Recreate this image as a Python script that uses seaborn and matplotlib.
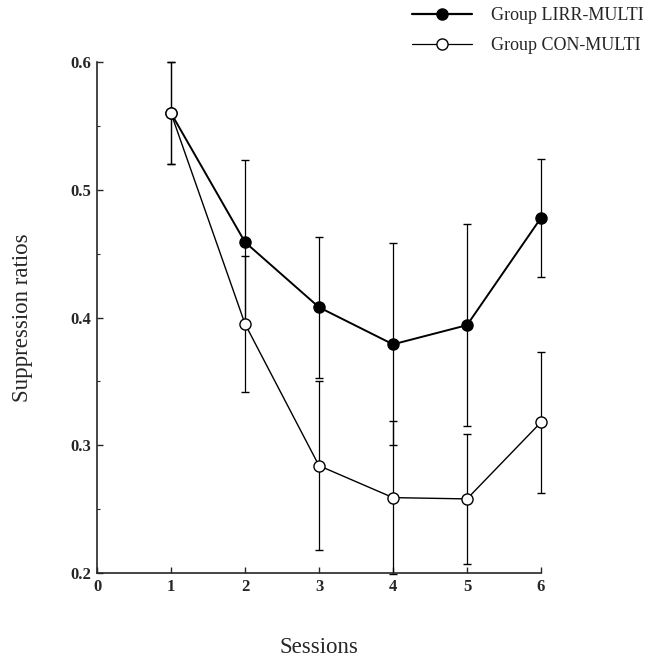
import numpy as np
import pandas as pd
import seaborn as sns
import matplotlib.pyplot as plt
from matplotlib.lines import Line2D
from matplotlib.ticker import MultipleLocator

# --- DATA ---
sessions = [1, 2, 3, 4, 5, 6]
lirr_mean = [0.560, 0.459, 0.408, 0.379, 0.394, 0.478]
lirr_err = [0.040, 0.064, 0.055, 0.079, 0.079, 0.046]
con_mean = [0.560, 0.395, 0.284, 0.259, 0.258, 0.318]
con_err = [0.040, 0.053, 0.066, 0.060, 0.051, 0.055]
group_names = ["Group LIRR-MULTI", "Group CON-MULTI"]


def main():
    sns.set_style("ticks")
    plt.rcParams['font.family'] = ['Liberation Serif', 'DejaVu Serif']
    plt.rcParams['xtick.direction'] = 'in'
    plt.rcParams['ytick.direction'] = 'in'

    df = pd.DataFrame({
        "Sessions": sessions * 2,
        "ratio": lirr_mean + con_mean,
        "err": lirr_err + con_err,
        "group": [group_names[0]] * 6 + [group_names[1]] * 6,
    })

    fig = plt.figure(figsize=(6.52, 6.58), dpi=100)
    ax = fig.add_axes([97 / 652, 85 / 658, 444 / 652, 511 / 658])

    styles = {
        group_names[0]: dict(mfc="black", lw=1.4),
        group_names[1]: dict(mfc="white", lw=1.0),
    }

    # error bars first so the markers sit on top
    for name, sub in df.groupby("group", sort=False):
        ax.errorbar(sub["Sessions"], sub["ratio"], yerr=sub["err"], fmt="none",
                    ecolor="black", elinewidth=0.9, capsize=3, capthick=1.0,
                    clip_on=False, zorder=2)

    for name, sub in df.groupby("group", sort=False):
        st = styles[name]
        sns.lineplot(data=sub, x="Sessions", y="ratio", ax=ax, color="black",
                     linewidth=st["lw"], marker="o", markersize=8,
                     markerfacecolor=st["mfc"], markeredgecolor="black",
                     markeredgewidth=1.0, legend=False, clip_on=False, zorder=3)

    ax.set_xlim(0, 6)
    ax.set_ylim(0.2, 0.6)
    ax.xaxis.set_major_locator(MultipleLocator(1))
    ax.yaxis.set_major_locator(MultipleLocator(0.1))
    ax.yaxis.set_minor_locator(MultipleLocator(0.05))
    ax.tick_params(axis="both", which="major", length=4, width=1.0,
                   labelsize=12, pad=4)
    ax.tick_params(axis="y", which="minor", length=2.5, width=0.8)
    ax.set_yticklabels(["%.1f" % v for v in ax.get_yticks()])
    ax.set_xticklabels(["%d" % v for v in ax.get_xticks()])
    for lab in ax.get_xticklabels() + ax.get_yticklabels():
        lab.set_fontweight("bold")

    sns.despine(ax=ax)
    ax.spines["left"].set_linewidth(1.2)
    ax.spines["bottom"].set_linewidth(1.2)

    ax.set_xlabel("Sessions", fontsize=16.5)
    ax.set_ylabel("Suppression ratios", fontsize=16.5)
    ax.xaxis.set_label_coords(0.5, -0.125)
    ax.yaxis.set_label_coords(-0.145, 0.5)

    handles = [
        Line2D([], [], color="black", lw=1.6, marker="o", markersize=8,
               markerfacecolor="black", markeredgecolor="black"),
        Line2D([], [], color="black", lw=0.9, marker="o", markersize=8,
               markerfacecolor="white", markeredgecolor="black"),
    ]
    fig.legend(handles, group_names, loc="upper left",
               bbox_to_anchor=(412 / 652, 1 - 7 / 658), frameon=False,
               fontsize=13, handlelength=3.3, handletextpad=1.1,
               labelspacing=0.72, borderpad=0, borderaxespad=0)

    fig.savefig("out.png", dpi=100, facecolor="white")


if __name__ == "__main__":
    main()
